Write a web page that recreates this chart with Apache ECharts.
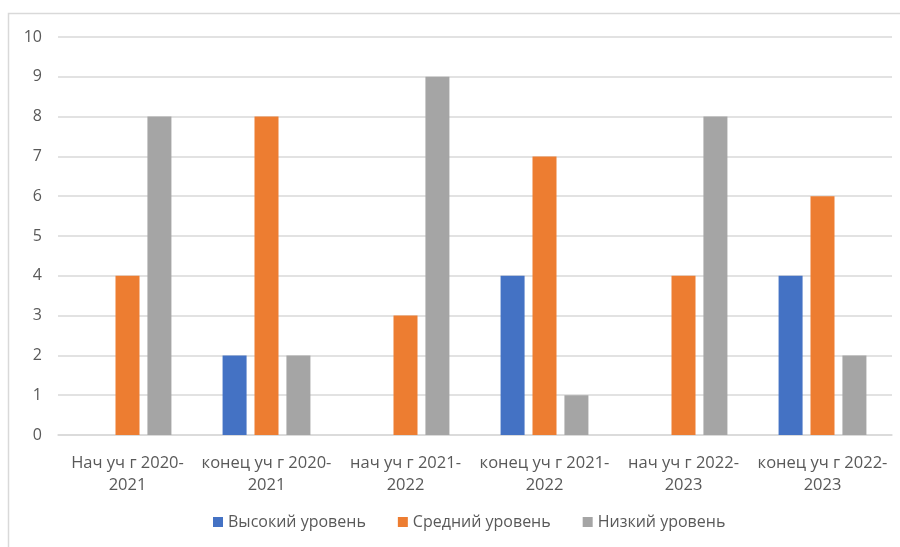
<!DOCTYPE html>
<html><head><meta charset="utf-8">
<script src="https://cdn.jsdelivr.net/npm/echarts@6/dist/echarts.min.js"></script>
<style>html,body{margin:0;padding:0;background:#fff}#c{width:900px;height:547px}</style>
</head><body><div id="c"></div>
<script>
const categories = ['Нач уч г 2020-\n2021','конец уч г 2020-\n2021','нач уч г 2021-\n2022','конец уч г 2021-\n2022','нач уч г 2022-\n2023','конец уч г 2022-\n2023'];
const seriesNames = ['Высокий уровень','Средний уровень','Низкий уровень'];
const high = [0,2,0,4,0,4];
const mid = [4,8,3,7,4,6];
const low = [8,2,9,1,8,2];
const yTicks = [0,1,2,3,4,5,6,7,8,9,10];
const colors = ['#4472C4','#ED7D31','#A5A5A5'];
const chart = echarts.init(document.getElementById('c'));
const txt = '#595959';
const font = '"Open Sans", "Noto Sans", sans-serif';
chart.setOption({
  animation:false,
  textStyle:{fontFamily:font},
  graphic:[{type:'rect',shape:{x:8.5,y:13.5,width:900,height:600},style:{fill:'none',stroke:'#d9d9d9',lineWidth:1.5}}],
  grid:{left:58,right:8,top:37,bottom:112},
  legend:{bottom:12,left:208,itemWidth:10,itemHeight:10,itemGap:32,icon:'rect',
    textStyle:{color:txt,fontSize:16,fontFamily:font},data:seriesNames},
  xAxis:{type:'category',data:categories,
    axisLine:{lineStyle:{color:'#d9d9d9',width:1.5}},axisTick:{show:false},
    axisLabel:{color:txt,fontSize:16.5,lineHeight:22,margin:17,interval:0,fontFamily:font}},
  yAxis:{type:'value',min:yTicks[0],max:yTicks[yTicks.length-1],interval:1,
    axisLine:{show:false},axisTick:{show:false},
    splitLine:{lineStyle:{color:'#d9d9d9',width:1.5}},
    axisLabel:{color:txt,fontSize:16,margin:16,fontFamily:font}},
  series:[
    {name:seriesNames[0],type:'bar',data:high,itemStyle:{color:colors[0]},barWidth:24,barGap:'33%'},
    {name:seriesNames[1],type:'bar',data:mid,itemStyle:{color:colors[1]},barWidth:24,barGap:'33%'},
    {name:seriesNames[2],type:'bar',data:low,itemStyle:{color:colors[2]},barWidth:24,barGap:'33%'}
  ]
});
</script></body></html>
